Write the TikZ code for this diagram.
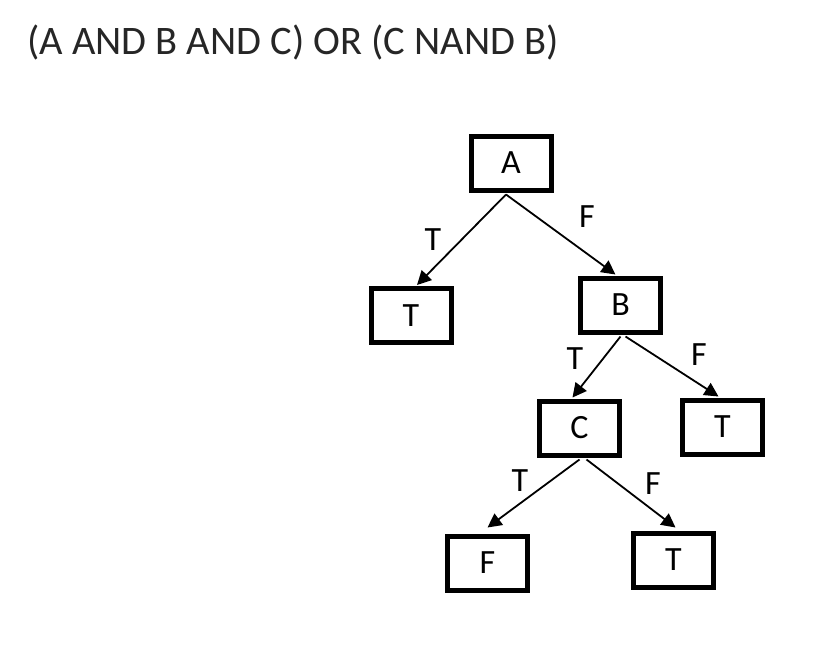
\documentclass[tikz,border=0pt]{standalone}
\usepackage{fontspec}
\setmainfont{Carlito}
\usetikzlibrary{arrows.meta,calc}
\definecolor{titlegray}{HTML}{262626}
\newcommand{\nodefont}{\fontsize{34}{38}\selectfont}
\begin{document}
\begin{tikzpicture}[x=1pt,y=-1pt,
  box/.style={draw=black,line width=5pt,minimum width=80pt,minimum height=54pt,inner sep=0pt,font=\nodefont},
  edge/.style={line width=1.8pt,-{Triangle[length=14pt,width=14pt]}},
  elabel/.style={font=\nodefont,inner sep=0pt}]
\useasboundingbox (0,0) rectangle (835,646);
\node[anchor=west,text=titlegray,font=\fontsize{40.5}{44}\selectfont,inner sep=0pt] (title) at (27,42) {(A AND B AND C) OR (C NAND B)};
\node[box] (A) at (511,163) {A};
\node[box] (T1) at (411,315.5) {T};
\node[box] (B) at (620.5,305) {B};
\node[box] (C) at (579.5,428) {C};
\node[box] (T2) at (722.5,427) {T};
\node[box] (F1) at (487.5,563) {F};
\node[box] (T3) at (673.5,560) {T};
\draw[edge] ($(A.south)+(-5,2)$) -- ($(T1.north)+(6,-1)$);
\draw[edge] ($(A.south)+(-5,2)$) -- ($(B.north)+(-5,-1)$);
\draw[edge] ($(B.south)+(0,2)$) -- ($(C.north)+(-7,-1)$);
\draw[edge] ($(B.south)+(5,2)$) -- ($(T2.north)+(-4,-1)$);
\draw[edge] ($(C.south)+(0,2)$) -- ($(F1.north)+(0,-6)$);
\draw[edge] ($(C.south)+(7,2)$) -- ($(T3.north)+(2,-3)$);
\node[elabel] (l1) at (433,240) {T};
\node[elabel] (l2) at (587,217) {F};
\node[elabel] (l3) at (575,359) {T};
\node[elabel] (l4) at (699,355) {F};
\node[elabel] (l5) at (520,481) {T};
\node[elabel] (l6) at (653,484) {F};
\end{tikzpicture}
\end{document}
